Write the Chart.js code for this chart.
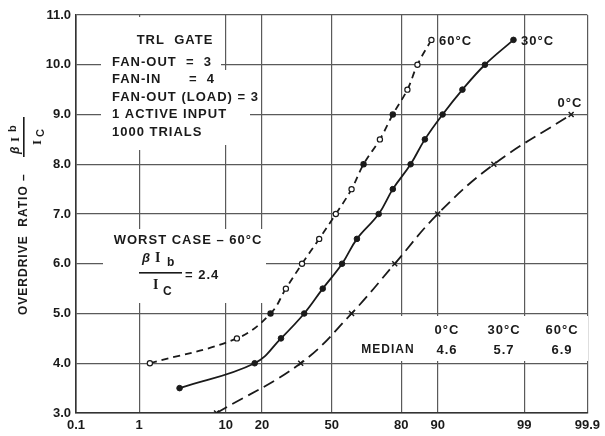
<!DOCTYPE html>
<html>
<head>
<meta charset="utf-8">
<script src="https://cdn.jsdelivr.net/npm/chart.js@4"></script>
<style>
html,body{margin:0;padding:0;background:#fff;}
canvas{display:block;}
</style>
</head>
<body>
<canvas id="c" width="605" height="436"></canvas>
<script>
// ---- data (cumulative percent vs overdrive ratio) ----
const tickPercents = [0.1, 1, 10, 20, 50, 80, 90, 99, 99.9];
const tickLabels = ["0.1", "1", "10", "20", "50", "80", "90", "99", "99.9"];
const yTicks = [3, 4, 5, 6, 7, 8, 9, 10, 11];

const p60 = [1.4, 12.6, 23, 29, 36, 44, 52, 59.5, 65, 72, 77, 82, 85, 88.6];
const y60 = [4.0, 4.5, 5.0, 5.5, 6.0, 6.5, 7.0, 7.5, 8.0, 8.5, 9.0, 9.5, 10.0, 10.5];
const fill60 = [false, false, true, false, false, false, false, false, true, false, true, false, false, false];

const p30 = [3.3, 17.6, 27, 37, 45.7, 55, 62, 71.5, 77, 83, 87, 91, 94.3, 96.8, 98.6];
const y30 = [3.5, 4.0, 4.5, 5.0, 5.5, 6.0, 6.5, 7.0, 7.5, 8.0, 8.5, 9.0, 9.5, 10.0, 10.5];

const p0 = [8.2, 35.4, 59.5, 77.7, 90, 97.5, 99.81];
const y0 = [3.0, 4.0, 5.0, 6.0, 7.0, 8.0, 9.0];

const seriesNames = ["60\u00b0C", "30\u00b0C", "0\u00b0C"];
const medianValues = ["4.6", "5.7", "6.9"];
const medianHeads = ["0\u00b0C", "30\u00b0C", "60\u00b0C"];
const infoLines = ["FAN-OUT  =  3", "FAN-IN      =  4", "FAN-OUT (LOAD) = 3", "1 ACTIVE INPUT", "1000 TRIALS"];

// normal probability transform (inverse normal CDF, Acklam)
function probit(pct) {
  const p = pct / 100;
  const a = [-3.969683028665376e+01, 2.209460984245205e+02, -2.759285104469687e+02, 1.383577518672690e+02, -3.066479806614716e+01, 2.506628277459239e+00];
  const b = [-5.447609879822406e+01, 1.615858368580409e+02, -1.556989798598866e+02, 6.680131188771972e+01, -1.328068155288572e+01];
  const c = [-7.784894002430293e-03, -3.223964580411365e-01, -2.400758277161838e+00, -2.549732539343734e+00, 4.374664141464968e+00, 2.938163982698783e+00];
  const d = [7.784695709041462e-03, 3.224671290700398e-01, 2.445134137142996e+00, 3.754408661907416e+00];
  const pl = 0.02425, ph = 1 - pl;
  let q, r;
  if (p < pl) {
    q = Math.sqrt(-2 * Math.log(p));
    return (((((c[0]*q+c[1])*q+c[2])*q+c[3])*q+c[4])*q+c[5]) / ((((d[0]*q+d[1])*q+d[2])*q+d[3])*q+1);
  } else if (p <= ph) {
    q = p - 0.5; r = q * q;
    return (((((a[0]*r+a[1])*r+a[2])*r+a[3])*r+a[4])*r+a[5])*q / (((((b[0]*r+b[1])*r+b[2])*r+b[3])*r+b[4])*r+1);
  } else {
    q = Math.sqrt(-2 * Math.log(1 - p));
    return -(((((c[0]*q+c[1])*q+c[2])*q+c[3])*q+c[4])*q+c[5]) / ((((d[0]*q+d[1])*q+d[2])*q+d[3])*q+1);
  }
}
const pts = (ps, ys) => ps.map((p, i) => ({x: probit(p), y: ys[i]}));
const tickZ = tickPercents.map(probit);

const INK = '#1a1a1a';
const GRID = '#5a5a5a';
const F = '"Liberation Sans", Arial, sans-serif';

function txt(ctx, s, x, y, size, align, spacing) {
  ctx.font = 'bold ' + size + 'px ' + F;
  ctx.letterSpacing = (spacing === undefined ? 1 : spacing) + 'px';
  ctx.textAlign = align || 'left';
  ctx.textBaseline = 'middle';
  ctx.fillStyle = INK;
  ctx.fillText(s, x, y);
  ctx.letterSpacing = '0px';
}

const annot = {
  id: 'annot',
  beforeDatasetsDraw(chart) {
    const ctx = chart.ctx;
    ctx.save();
    ctx.fillStyle = '#fff';
    // info box masks
    ctx.fillRect(101, 17, 120, 133);
    ctx.fillRect(101, 70, 149, 75);
    // worst case box
    ctx.fillRect(103, 229, 163, 74);
    // median box
    ctx.fillRect(345, 316, 243, 45);

    txt(ctx, 'TRL  GATE', 175, 40, 13, 'center');
    const ly = [62, 79, 97, 114, 132];
    infoLines.forEach((s, i) => txt(ctx, s, 112, ly[i], 13, 'left'));

    txt(ctx, 'WORST CASE \u2013 60\u00b0C', 188, 240, 13, 'center');
    // fraction beta Ib / Ic
    ctx.font = 'italic bold 13px ' + F;
    ctx.textAlign = 'left'; ctx.textBaseline = 'middle'; ctx.fillStyle = INK;
    ctx.fillText('\u03b2', 142, 258);
    ctx.font = 'bold 14px "Liberation Serif", serif';
    ctx.fillText('I', 155, 258);
    ctx.fillText('I', 153, 285);
    txt(ctx, 'b', 167, 263, 12, 'left', 0);
    txt(ctx, 'C', 163, 292, 12, 'left', 0);
    ctx.fillStyle = INK;
    ctx.fillRect(139, 272, 43, 1.6);
    txt(ctx, '= 2.4', 185, 275, 13, 'left', 1);

    // median table
    const mx = [447, 504, 562];
    medianHeads.forEach((s, i) => txt(ctx, s, mx[i], 330, 13, 'center'));
    txt(ctx, 'MEDIAN', 388, 350, 12, 'center');
    medianValues.forEach((s, i) => txt(ctx, s, mx[i], 350, 13, 'center'));

    // y axis title (rotated)
    ctx.translate(24, 315);
    ctx.rotate(-Math.PI / 2);
    txt(ctx, 'OVERDRIVE  RATIO \u2013', 0, 0, 12, 'left', 1);
    ctx.font = 'italic bold 12px ' + F;
    ctx.fillStyle = INK; ctx.textAlign = 'left'; ctx.textBaseline = 'middle';
    ctx.fillText('\u03b2', 161, -8);
    ctx.font = 'bold 13px "Liberation Serif", serif';
    ctx.fillText('I', 173, -8);
    ctx.fillText('I', 170, 14);
    txt(ctx, 'b', 183, -11, 11, 'left', 0);
    txt(ctx, 'C', 178, 17, 11, 'left', 0);
    ctx.fillStyle = INK;
    ctx.fillRect(158, -1, 40, 1.6);
    ctx.restore();
  },
  afterDatasetsDraw(chart) {
    const ctx = chart.ctx;
    ctx.save();
    txt(ctx, seriesNames[0], 439, 41, 13, 'left');
    txt(ctx, seriesNames[1], 521, 41, 13, 'left');
    txt(ctx, seriesNames[2], 570, 103, 13, 'center');
    ctx.restore();
  }
};

new Chart(document.getElementById('c'), {
  type: 'scatter',
  data: {
    datasets: [
      {
        label: seriesNames[0],
        data: pts(p60, y60),
        showLine: true,
        borderColor: INK,
        borderWidth: 1.8,
        borderDash: [7, 5],
        tension: 0.4,
        pointStyle: 'circle',
        pointRadius: 2.6,
        pointBorderWidth: 1.2,
        pointBorderColor: INK,
        pointBackgroundColor: fill60.map(f => f ? INK : '#fff')
      },
      {
        label: seriesNames[1],
        data: pts(p30, y30),
        showLine: true,
        borderColor: INK,
        borderWidth: 1.8,
        tension: 0.4,
        pointStyle: 'circle',
        pointRadius: 2.8,
        pointBorderWidth: 1,
        pointBorderColor: INK,
        pointBackgroundColor: INK
      },
      {
        label: seriesNames[2],
        data: pts(p0, y0),
        showLine: true,
        borderColor: INK,
        borderWidth: 1.8,
        borderDash: [12, 6],
        tension: 0.4,
        pointStyle: 'crossRot',
        pointRadius: 3.5,
        pointBorderWidth: 1.5,
        pointBorderColor: INK
      }
    ]
  },
  options: {
    responsive: false,
    animation: false,
    layout: {padding: {top: 15, right: 16, left: 0, bottom: 0}},
    plugins: {legend: {display: false}, tooltip: {enabled: false}},
    scales: {
      x: {
        type: 'linear',
        min: tickZ[0],
        max: tickZ[tickZ.length - 1],
        afterBuildTicks: (s) => { s.ticks = tickZ.map(v => ({value: v})); },
        afterFit: (s) => { s.height = 23; },
        ticks: {
          autoSkip: false,
          maxRotation: 0,
          padding: 5,
          color: INK,
          font: {family: F, size: 13, weight: 'bold'},
          callback: (v, i) => tickLabels[i]
        },
        grid: {color: GRID, lineWidth: 1.2, drawTicks: false},
        border: {color: '#333', width: 1.6}
      },
      y: {
        type: 'linear',
        min: yTicks[0],
        max: yTicks[yTicks.length - 1],
        afterBuildTicks: (s) => { s.ticks = yTicks.map(v => ({value: v})); },
        afterFit: (s) => { s.width = 76; },
        ticks: {
          padding: 5,
          color: INK,
          font: {family: F, size: 13, weight: 'bold'},
          callback: (v) => Number(v).toFixed(1)
        },
        grid: {color: GRID, lineWidth: 1.2, drawTicks: false},
        border: {color: '#333', width: 1.6}
      }
    }
  },
  plugins: [annot]
});
</script>
</body>
</html>
